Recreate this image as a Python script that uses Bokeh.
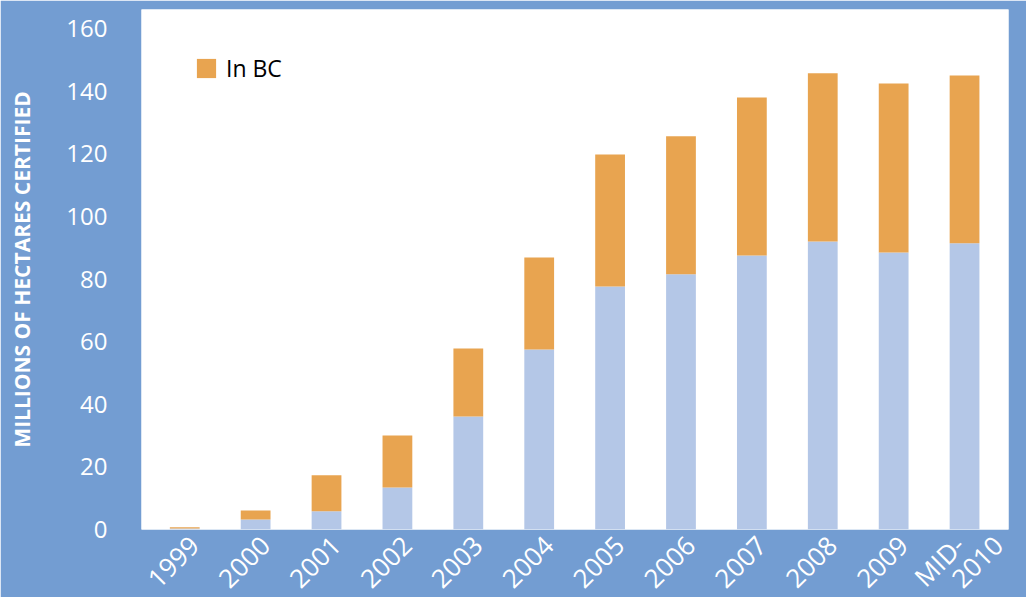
import math
from bokeh.plotting import figure
from bokeh.models import Range1d, FixedTicker, Legend, LegendItem, ColumnDataSource
from bokeh.embed import file_html
from bokeh.resources import INLINE

years = ["1999", "2000", "2001", "2002", "2003", "2004", "2005", "2006", "2007", "2008", "2009", "MID-2010"]
outside_bc = [0.3, 3.2, 5.8, 13.4, 36.1, 57.5, 77.6, 81.5, 87.5, 92.0, 88.5, 91.4]
in_bc = [0.4, 2.9, 11.5, 16.6, 21.7, 29.4, 42.2, 44.1, 50.5, 53.7, 54.0, 53.6]
y_ticks = [0, 20, 40, 60, 80, 100, 120, 140, 160]
# the last category label is wrapped over two lines in the reference
last_label_lines = ["MID-", "2010"]

BG = "#739DD2"
BLUE = "#B4C7E7"
ORANGE = "#E8A450"
FONT = "Open Sans"

x = list(range(len(years)))
src = ColumnDataSource(dict(x=x, outside=outside_bc, inbc=in_bc,
                            total=[a + b for a, b in zip(outside_bc, in_bc)]))

p = figure(frame_width=867, frame_height=520, output_backend="svg", toolbar_location=None,
           x_range=Range1d(-0.61, 11.62), y_range=Range1d(0, 166.1),
           min_border_left=141, min_border_right=18, min_border_top=9, min_border_bottom=66)
p.background_fill_color = "white"
p.border_fill_color = BG
p.outline_line_color = None
p.grid.visible = False

r_blue = p.vbar(x="x", top="outside", bottom=0, width=0.42, source=src,
                fill_color=BLUE, line_color=None)
r_orange = p.vbar(x="x", top="total", bottom="outside", width=0.42, source=src,
                  fill_color=ORANGE, line_color=None)

# tick labels sit slightly right of each bar centre, as in the reference;
# the wrapped last label is given as two staggered ticks
shift = 0.13
label_pos = [i + shift for i in x[:-1]] + [x[-1] - 0.2 + shift, x[-1] + 0.34 + shift]
label_txt = years[:-1] + last_label_lines
p.xaxis.ticker = FixedTicker(ticks=label_pos)
p.xaxis.major_label_overrides = {pos: lab for pos, lab in zip(label_pos, label_txt)}
p.xaxis.major_label_orientation = math.pi / 4
p.yaxis.ticker = FixedTicker(ticks=y_ticks)

for ax in (p.xaxis, p.yaxis):
    ax.axis_line_color = None
    ax.major_tick_line_color = None
    ax.minor_tick_line_color = None
    ax.major_tick_out = 0
    ax.major_tick_in = 0
    ax.major_label_text_color = "white"
    ax.major_label_text_font = FONT

p.yaxis.major_label_text_font_size = "24px"
p.yaxis.major_label_standoff = 34
p.xaxis.major_label_text_font_size = "26px"
p.xaxis.major_label_standoff = 11

p.yaxis.axis_label = "MILLIONS OF HECTARES CERTIFIED"
p.yaxis.axis_label_text_color = "white"
p.yaxis.axis_label_text_font = FONT
p.yaxis.axis_label_text_font_style = "bold"
p.yaxis.axis_label_text_font_size = "21px"
p.yaxis.axis_label_standoff = 27

legend = Legend(items=[LegendItem(label="In BC", renderers=[r_orange])],
                location=(53, 445), margin=0, padding=0,
                glyph_width=24, glyph_height=24, label_standoff=8,
                label_text_font=FONT, label_text_font_size="23px", label_text_color="black",
                border_line_color=None, background_fill_alpha=0)
p.add_layout(legend)

html = file_html(p, INLINE)
html = html.replace("<body>", '<body style="background:%s">' % BG, 1)
open("out.html", "w").write(html)
